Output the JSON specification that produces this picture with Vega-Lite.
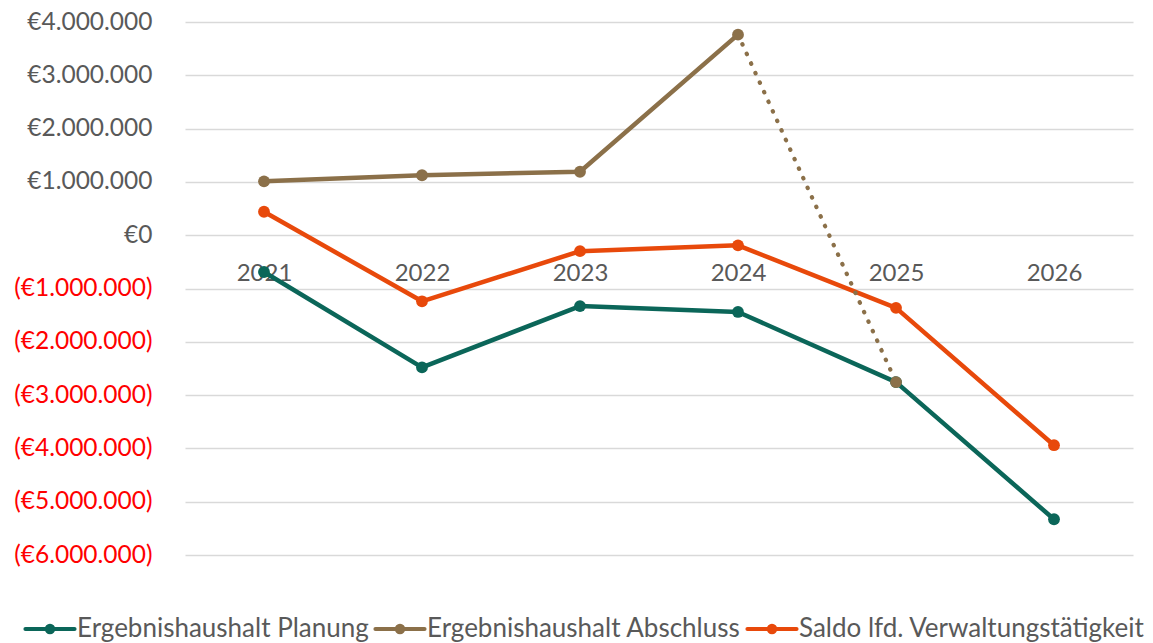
{
  "$schema": "https://vega.github.io/schema/vega-lite/v6.json",
  "autosize": {"type": "none"},
  "width": 948,
  "height": 533,
  "padding": {"left": 185, "top": 22, "right": 20, "bottom": 88},
  "background": "white",
  "config": {
    "locale": {"number": {"decimal": ",", "thousands": ".", "grouping": [3], "currency": ["€", ""]}},
    "view": {"stroke": null},
    "font": "Lato"
  },
  "data": {
    "values": [
      {"year": "2021", "series": "Ergebnishaushalt Planung", "value": -690000},
      {"year": "2022", "series": "Ergebnishaushalt Planung", "value": -2480000},
      {"year": "2023", "series": "Ergebnishaushalt Planung", "value": -1330000},
      {"year": "2024", "series": "Ergebnishaushalt Planung", "value": -1440000},
      {"year": "2025", "series": "Ergebnishaushalt Planung", "value": -2756000},
      {"year": "2026", "series": "Ergebnishaushalt Planung", "value": -5330000},
      {"year": "2021", "series": "Ergebnishaushalt Abschluss", "value": 1010000},
      {"year": "2022", "series": "Ergebnishaushalt Abschluss", "value": 1125000},
      {"year": "2023", "series": "Ergebnishaushalt Abschluss", "value": 1190000},
      {"year": "2024", "series": "Ergebnishaushalt Abschluss", "value": 3763000},
      {"year": "2025", "series": "Ergebnishaushalt Abschluss", "value": -2756000},
      {"year": "2021", "series": "Saldo lfd. Verwaltungstätigkeit", "value": 440000},
      {"year": "2022", "series": "Saldo lfd. Verwaltungstätigkeit", "value": -1240000},
      {"year": "2023", "series": "Saldo lfd. Verwaltungstätigkeit", "value": -300000},
      {"year": "2024", "series": "Saldo lfd. Verwaltungstätigkeit", "value": -190000},
      {"year": "2025", "series": "Saldo lfd. Verwaltungstätigkeit", "value": -1363000},
      {"year": "2026", "series": "Saldo lfd. Verwaltungstätigkeit", "value": -3940000}
    ]
  },
  "encoding": {
    "x": {
      "field": "year", "type": "ordinal",
      "scale": {"type": "point", "padding": 0.5},
      "axis": {
        "title": null, "orient": "bottom", "offset": -320, "domain": false, "ticks": false, "tickSize": 0,
        "labelAngle": 0, "labelPadding": 26, "labelBaseline": "top", "labelFontSize": 24,
        "labelColor": "#595959", "grid": false, "zindex": 0, "labelOverlap": false
      }
    },
    "y": {
      "field": "value", "type": "quantitative",
      "scale": {"domain": [-6000000, 4000000], "nice": false, "zero": false},
      "axis": {
        "title": null, "values": [-6000000, -5000000, -4000000, -3000000, -2000000, -1000000, 0, 1000000, 2000000, 3000000, 4000000],
        "domain": false, "ticks": false, "tickSize": 0, "labelPadding": 33, "labelOverlap": false,
        "labelFontSize": 24.5, "labelBaseline": "middle",
        "labelExpr": "datum.value < 0 ? '(' + format(-datum.value, '$,.0f') + ')' : format(datum.value, '$,.0f')",
        "labelColor": {"condition": {"test": "datum.value < 0", "value": "#FF0000"}, "value": "#595959"},
        "gridColor": "#D9D9D9", "gridWidth": 1.5, "zindex": 0
      }
    },
    "color": {
      "field": "series", "type": "nominal",
      "scale": {
        "domain": ["Ergebnishaushalt Planung", "Ergebnishaushalt Abschluss", "Saldo lfd. Verwaltungstätigkeit"],
        "range": ["#0B6659", "#8B7049", "#E8490B"]
      },
      "legend": {
        "title": null, "orient": "none", "direction": "horizontal", "legendX": -162, "legendY": 580,
        "labelFontSize": 26, "labelColor": "#595959", "labelOffset": 0, "columnPadding": -2, "labelLimit": 600,
        "symbolType": "M-1,0L1,0M-0.13,0A0.13,0.13,0,1,0,0.13,0A0.13,0.13,0,1,0,-0.13,0Z",
        "symbolSize": 2401, "symbolStrokeWidth": 4.2,
        "encode": {"symbols": {"update": {"fill": {"scale": "color", "field": "value"}, "stroke": {"scale": "color", "field": "value"}, "strokeCap": {"value": "round"}}}}
      }
    }
  },
  "layer": [
    {
      "transform": [{"filter": "!(datum.series == 'Ergebnishaushalt Abschluss' && datum.year == '2025')"}],
      "mark": {"type": "line", "strokeWidth": 4.5, "strokeCap": "round", "strokeJoin": "round"}
    },
    {
      "transform": [{"filter": "datum.series == 'Ergebnishaushalt Abschluss' && (datum.year == '2024' || datum.year == '2025')"}],
      "mark": {"type": "line", "strokeWidth": 4.2, "strokeCap": "round", "strokeDash": [0.5, 10], "color": "#8B7049"}
    },
    {
      "mark": {"type": "point", "filled": true, "opacity": 1, "size": 140}
    }
  ]
}
